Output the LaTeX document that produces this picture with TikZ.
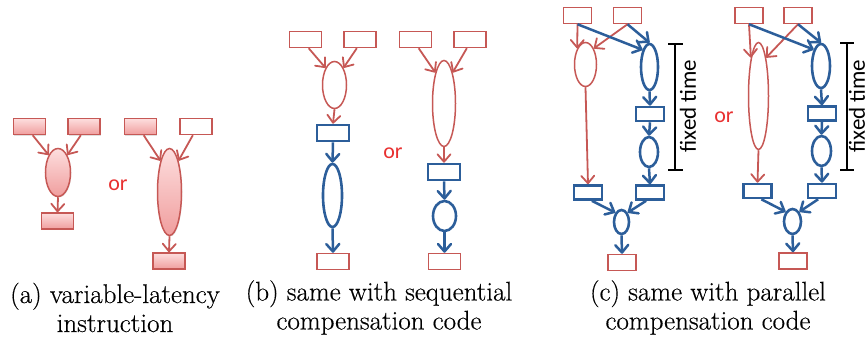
\documentclass[tikz,border=0pt]{standalone}
\usepackage{fontspec}
\newfontfamily\labelfont{Carlito}
\newfontfamily\capfont{Latin Modern Roman}[FakeBold=0.4]
\usetikzlibrary{arrows.meta,shapes.geometric,shadows}

\definecolor{ored}{RGB}{198,88,85}
\definecolor{oblue}{RGB}{44,94,154}
\definecolor{pinktop}{RGB}{253,222,222}
\definecolor{pinkbot}{RGB}{240,158,158}
\definecolor{ortext}{RGB}{232,48,48}

\tikzset{
  redline/.style={draw=ored, line width=1.5pt},
  blueline/.style={draw=oblue, line width=2.6pt},
  rbox/.style={redline, fill=white, rectangle, inner sep=0pt,
    minimum width=32pt, minimum height=16pt},
  rboxs/.style={rbox, minimum width=28pt},
  pbox/.style={rbox, top color=pinktop, bottom color=pinkbot,
    drop shadow={shadow xshift=0.8pt, shadow yshift=-1pt, opacity=0.25}},
  bbox/.style={blueline, fill=white, rectangle, inner sep=0pt,
    minimum width=32pt, minimum height=16pt},
  bboxs/.style={bbox, minimum width=28pt, minimum height=14pt},
  rell/.style={redline, fill=white, ellipse, inner sep=0pt},
  pell/.style={rell, top color=pinktop, bottom color=pinkbot,
    drop shadow={shadow xshift=0.8pt, shadow yshift=-1pt, opacity=0.25}},
  bell/.style={blueline, fill=white, ellipse, inner sep=0pt},
  rarr/.style={draw=ored, line width=1.8pt,
    -{Straight Barb[length=7.5pt,width=13pt,round]}},
  barr/.style={draw=oblue, line width=2.5pt,
    -{Straight Barb[length=7.5pt,width=13pt,round]}},
  ortxt/.style={text=ortext, font=\labelfont\fontsize{22}{22}\selectfont},
  timetxt/.style={rotate=90, inner sep=0pt,
    font=\labelfont\fontsize{23}{23}\selectfont},
  timebar/.style={draw=black, line width=1.2pt},
  caption/.style={align=center, font=\capfont\fontsize{27}{29}\selectfont}
}

\begin{document}
\begin{tikzpicture}[x=1pt,y=-1pt]
\useasboundingbox (0,0) rectangle (868,337);

% ---------- (a) variable-latency instruction ----------
\node[pbox] (a1l) at (29.5,126.5) {};
\node[pbox] (a1r) at (84,126.5) {};
\node[pell, minimum width=25pt, minimum height=48pt] (a1e) at (58,172.5) {};
\node[pbox] (a1b) at (57.5,221) {};
\draw[rarr] (a1l.-70) -- (a1e.north west);
\draw[rarr] (a1r.-110) -- (a1e.north east);
\draw[rarr] (a1e.south) -- (a1b.north);

\node[ortxt] (ora) at (118,185) {or};

\node[pbox] (a2l) at (140.5,126.5) {};
\node[rbox] (a2r) at (196,126.5) {};
\node[pell, minimum width=24pt, minimum height=87pt] (a2e) at (169.5,192) {};
\node[pbox] (a2b) at (169,261) {};
\draw[rarr] (a2l.-70) -- (a2e.north west);
\draw[rarr] (a2r.-110) -- (a2e.north east);
\draw[rarr] (a2e.south) -- (a2b.north);

% ---------- (b) sequential compensation code ----------
\node[rbox] (b1l) at (305.5,39.5) {};
\node[rbox] (b1r) at (360,39.5) {};
\node[rell, minimum width=24pt, minimum height=47pt] (b1e) at (334.5,85) {};
\node[bbox] (b1m) at (333,133) {};
\node[bell, minimum width=19pt, minimum height=63pt] (b1f) at (332.5,195.5) {};
\node[rbox] (b1b) at (333,261.5) {};
\draw[rarr] (b1l.-70) -- (b1e.north west);
\draw[rarr] (b1r.-110) -- (b1e.north east);
\draw[rarr] (b1e.south) -- (b1m.north);
\draw[barr] (b1m.south) -- (b1f.north);
\draw[barr] (b1f.south) -- (b1b.north);

\node[ortxt] (orb) at (393,153) {or};

\node[rbox] (b2l) at (415.5,39.5) {};
\node[rbox] (b2r) at (470,39.5) {};
\node[rell, minimum width=23pt, minimum height=86pt] (b2e) at (444,103.5) {};
\node[bbox] (b2m) at (444,172) {};
\node[bell, minimum width=23pt, minimum height=30pt] (b2f) at (444.5,216) {};
\node[rbox] (b2b) at (444.5,261.5) {};
\draw[rarr] (b2l.-70) -- (b2e.north west);
\draw[rarr] (b2r.-110) -- (b2e.north east);
\draw[rarr] (b2e.south) -- (b2m.north);
\draw[barr] (b2m.south) -- (b2f.north);
\draw[barr] (b2f.south) -- (b2b.north);

% ---------- (c) parallel compensation code ----------
\node[rboxs] (c1l) at (577.5,15.5) {};
\node[rboxs] (c1r) at (627.5,15.5) {};
\node[rell, minimum width=22pt, minimum height=44pt] (c1e) at (585.5,64.5) {};
\node[bell, minimum width=17pt, minimum height=46pt] (c1f) at (649.5,67) {};
\node[bboxs] (c1m) at (650,114) {};
\node[bell, minimum width=18pt, minimum height=30pt] (c1g) at (649,152) {};
\node[bboxs] (c1p) at (588,192.5) {};
\node[bboxs] (c1q) at (650,192.5) {};
\node[bell, minimum width=15pt, minimum height=24pt] (c1j) at (621.5,222) {};
\node[rboxs] (c1b) at (622,262.5) {};
\draw[rarr] (c1l.south) -- (c1e.north west);
\draw[rarr] (c1r.south) -- (c1e.north east);
\draw[barr] (c1l.south) -- (c1f.north west);
\draw[barr] (c1r.south) -- (c1f.north);
\draw[barr] (c1f.south) -- (c1m.north);
\draw[barr] (c1m.south) -- (c1g.north);
\draw[barr] (c1g.south) -- (c1q.north);
\draw[rarr] (c1e.south) -- (c1p.north);
\draw[barr] (c1p.-65) -- (c1j.north west);
\draw[barr] (c1q.-115) -- (c1j.north east);
\draw[barr] (c1j.south) -- (c1b.north);

\draw[timebar] (675,44) -- (675,170);
\draw[timebar] (668,44) -- (683,44);
\draw[timebar] (668,170) -- (683,170);
\node[timetxt] (ft1) at (688,106) {fixed time};

\node[ortxt] (orc) at (724,117) {or};

\node[rboxs] (c2l) at (749,15.5) {};
\node[rboxs] (c2r) at (798,15.5) {};
\node[rell, minimum width=20pt, minimum height=107pt] (c2e) at (758.5,96) {};
\node[bell, minimum width=18pt, minimum height=44pt] (c2f) at (821,66) {};
\node[bboxs] (c2m) at (822,113.5) {};
\node[bell, minimum width=19pt, minimum height=30pt] (c2g) at (821.5,151) {};
\node[bboxs] (c2p) at (757.5,191) {};
\node[bboxs] (c2q) at (822,191) {};
\node[bell, minimum width=17pt, minimum height=25pt] (c2j) at (792.5,221.5) {};
\node[rboxs] (c2b) at (793,261) {};
\draw[rarr] (c2l.south) -- (c2e.north west);
\draw[rarr] (c2r.south) -- (c2e.north east);
\draw[barr] (c2l.south) -- (c2f.north west);
\draw[barr] (c2r.south) -- (c2f.north);
\draw[barr] (c2f.south) -- (c2m.north);
\draw[barr] (c2m.south) -- (c2g.north);
\draw[barr] (c2g.south) -- (c2q.north);
\draw[rarr] (c2e.south) -- (c2p.north);
\draw[barr] (c2p.-65) -- (c2j.north west);
\draw[barr] (c2q.-115) -- (c2j.north east);
\draw[barr] (c2j.south) -- (c2b.north);

\draw[timebar] (847,43) -- (847,170);
\draw[timebar] (840,43) -- (854,43);
\draw[timebar] (840,170) -- (854,170);
\node[timetxt] (ft2) at (857,106) {fixed time};

% ---------- captions ----------
\node[caption] (capa) at (115,307.5) {(a) variable-latency\\instruction};
\node[caption] (capb) at (379,307.5) {(b) same with sequential\\compensation code};
\node[caption] (capc) at (708,307.5) {(c) same with parallel\\compensation code};
\end{tikzpicture}
\end{document}
